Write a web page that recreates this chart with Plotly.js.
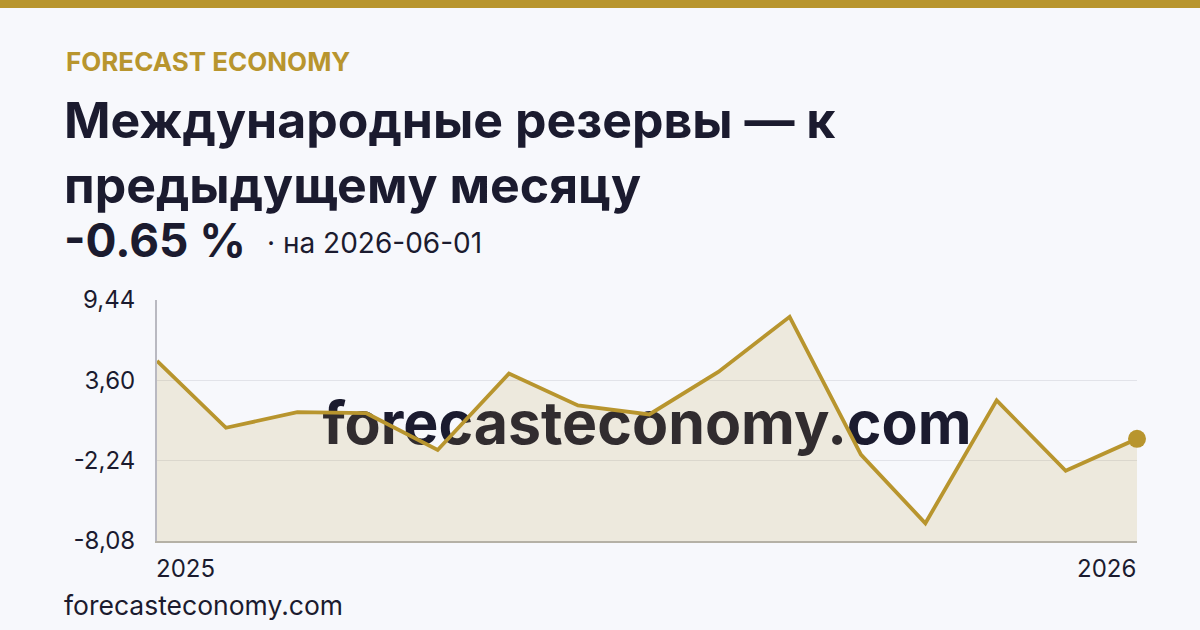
<!DOCTYPE html>
<html>
<head>
<meta charset="utf-8">
<script src="https://cdn.plot.ly/plotly-3.0.1.min.js"></script>
<style>
  html, body { margin: 0; padding: 0; background: #f7f8fc; }
  #chart { width: 1200px; height: 630px; }
</style>
</head>
<body>
<div id="chart"></div>
<script>
// ---- data ----
const dates = ["2025-04-01","2025-05-01","2025-06-01","2025-07-01","2025-08-01","2025-09-01","2025-10-01","2025-11-01","2025-12-01","2026-01-01","2026-02-01","2026-03-01","2026-04-01","2026-05-01","2026-06-01"];
const values = [5.01, 0.15, 1.29, 1.21, -1.46, 4.09, 1.78, 1.12, 4.21, 8.22, -1.80, -6.79, 2.14, -2.97, -0.65];
const yTickVals = [-8.08, -2.24, 3.60, 9.44];
const yTickText = ["-8,08", "-2,24", "3,60", "9,44"];
const xEndLabels = ["2025", "2026"];

const kicker = "FORECAST ECONOMY";
const titleText = "Международные резервы — к<br>предыдущему месяцу";
const valueText = "-0.65 %";
const dateText = "· на 2026-06-01";
const watermark = "forecasteconomy.com";
const footer = "forecasteconomy.com";

const GOLD = "#b8952e";
const DARK = "#1b1b2f";
const FONT = "Inter, 'Noto Sans', sans-serif";

// plot area in pixels: left 157, right 1137, top 300, bottom 541
const M = {l: 157, r: 63, t: 300, b: 89};
const PW = 1200 - M.l - M.r, PH = 630 - M.t - M.b;
const px = x => (x - M.l) / PW;
const py = y => (630 - M.b - y) / PH;

const yMin = yTickVals[0];
const baseline = dates.map(() => yMin);

const traces = [
  {
    x: dates, y: baseline, type: "scatter", mode: "lines",
    line: {width: 0, color: "rgba(0,0,0,0)"},
    hoverinfo: "skip", showlegend: false
  },
  {
    x: dates, y: values, type: "scatter", mode: "lines",
    line: {color: GOLD, width: 3.8},
    fill: "tonexty", fillcolor: "rgba(184,149,46,0.15)",
    hoverinfo: "skip", showlegend: false
  },
  {
    x: [dates[dates.length - 1]], y: [values[values.length - 1]],
    type: "scatter", mode: "markers",
    marker: {color: GOLD, size: 18},
    hoverinfo: "skip", showlegend: false, cliponaxis: false
  }
];

const layout = {
  width: 1200, height: 630,
  margin: M,
  paper_bgcolor: "#f7f8fc",
  plot_bgcolor: "#f7f8fc",
  font: {family: FONT, color: DARK},
  showlegend: false,
  xaxis: {
    type: "date",
    range: [dates[0], dates[dates.length - 1]],
    showgrid: false, zeroline: false,
    showline: true, linecolor: "#b5b1a6", linewidth: 2,
    showticklabels: false, ticks: ""
  },
  yaxis: {
    range: [yMin, yTickVals[yTickVals.length - 1]],
    tickmode: "array", tickvals: yTickVals, ticktext: yTickText,
    showgrid: true, gridcolor: "#e2e3e9", gridwidth: 1,
    zeroline: false,
    showline: true, linecolor: "#b9b9c1", linewidth: 2,
    ticks: "", ticklabelstandoff: 15,
    tickfont: {size: 24, color: DARK, family: FONT}
  },
  shapes: [
    {type: "rect", xref: "paper", yref: "paper",
     x0: px(0), x1: px(1200), y0: py(8), y1: py(0),
     fillcolor: GOLD, line: {width: 0}, layer: "above"},
    {type: "rect", xref: "paper", yref: "paper",
     x0: 0, x1: 1, y0: 0, y1: 1,
     fillcolor: "rgba(0,0,0,0)", line: {width: 0}, layer: "between",
     label: {text: watermark, textposition: "middle center",
             font: {size: 59, color: DARK, family: FONT, weight: 700}}}
  ],
  annotations: [
    {text: kicker, xref: "paper", yref: "paper", x: px(64), y: py(61),
     xanchor: "left", yanchor: "middle", showarrow: false,
     font: {size: 26, color: GOLD, family: FONT, weight: 700}},
    {text: titleText, xref: "paper", yref: "paper", x: px(62), y: py(88),
     xanchor: "left", yanchor: "top", align: "left", showarrow: false,
     font: {size: 50, color: DARK, family: FONT, weight: 700}},
    {text: valueText, xref: "paper", yref: "paper", x: px(62), y: py(240),
     xanchor: "left", yanchor: "middle", showarrow: false,
     font: {size: 46, color: DARK, family: FONT, weight: 700}},
    {text: dateText, xref: "paper", yref: "paper", x: px(265), y: py(243),
     xanchor: "left", yanchor: "middle", showarrow: false,
     font: {size: 28, color: DARK, family: FONT}},
    {text: xEndLabels[0], xref: "x", yref: "paper", x: dates[0], y: py(568),
     xanchor: "left", yanchor: "middle", showarrow: false, xshift: -3,
     font: {size: 24, color: DARK, family: FONT}},
    {text: xEndLabels[1], xref: "x", yref: "paper", x: dates[dates.length - 1], y: py(568),
     xanchor: "right", yanchor: "middle", showarrow: false, xshift: 1,
     font: {size: 24, color: DARK, family: FONT}},
    {text: footer, xref: "paper", yref: "paper", x: px(62), y: py(605),
     xanchor: "left", yanchor: "middle", showarrow: false,
     font: {size: 26.5, color: DARK, family: FONT}}
  ]
};

Plotly.newPlot("chart", traces, layout, {staticPlot: true, displayModeBar: false});
</script>
</body>
</html>
